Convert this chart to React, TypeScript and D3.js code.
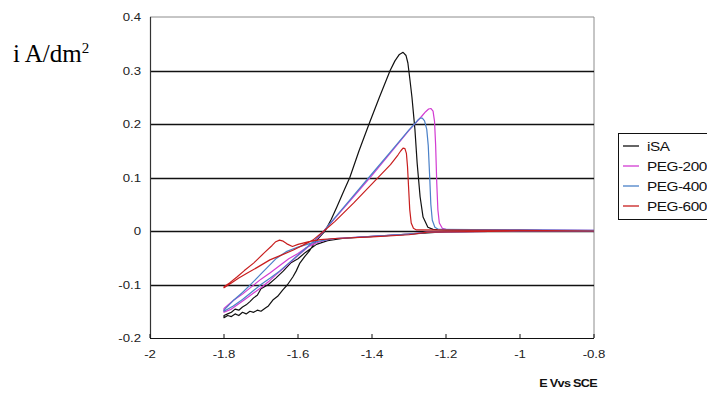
import { useEffect, useRef } from "react";
import * as d3 from "d3";

// potential (V vs SCE), current density (A/dm2); each loop runs cathodic then anodic
const isaLoop: [number, number][] = [
  [-0.8, 0], [-1.0, 0], [-1.2, -0.001], [-1.28, -0.005], [-1.35, -0.008], [-1.42, -0.011],
  [-1.48, -0.014], [-1.52, -0.018], [-1.55, -0.025], [-1.58, -0.04], [-1.6, -0.052],
  [-1.62, -0.06], [-1.64, -0.075], [-1.66, -0.088], [-1.68, -0.1], [-1.7, -0.108],
  [-1.71, -0.12], [-1.72, -0.125], [-1.73, -0.132], [-1.74, -0.138], [-1.75, -0.142],
  [-1.76, -0.148], [-1.77, -0.146], [-1.78, -0.152], [-1.79, -0.155], [-1.8, -0.158],
  [-1.8, -0.162], [-1.79, -0.158], [-1.78, -0.16], [-1.77, -0.155], [-1.76, -0.158],
  [-1.75, -0.152], [-1.74, -0.155], [-1.73, -0.15], [-1.72, -0.152], [-1.71, -0.148],
  [-1.7, -0.15], [-1.69, -0.145], [-1.68, -0.14], [-1.668, -0.129], [-1.655, -0.122],
  [-1.641, -0.11], [-1.628, -0.1], [-1.614, -0.086], [-1.605, -0.075], [-1.595, -0.06],
  [-1.582, -0.048], [-1.568, -0.036], [-1.555, -0.022], [-1.54, -0.01], [-1.527, 0],
  [-1.51, 0.022], [-1.495, 0.045], [-1.478, 0.072], [-1.46, 0.1], [-1.435, 0.15],
  [-1.408, 0.2], [-1.38, 0.25], [-1.351, 0.3], [-1.338, 0.318], [-1.326, 0.33],
  [-1.316, 0.334], [-1.308, 0.328], [-1.303, 0.314], [-1.297, 0.28], [-1.292, 0.25],
  [-1.284, 0.19], [-1.278, 0.127], [-1.27, 0.064], [-1.262, 0.026], [-1.249, 0.007],
  [-1.235, 0.003], [-1.2, 0.002], [-1.0, 0.001], [-0.8, 0],
];

const peg200Loop: [number, number][] = [
  [-0.8, 0], [-1.0, 0], [-1.25, -0.002], [-1.3, -0.006], [-1.4, -0.01], [-1.5, -0.014],
  [-1.52, -0.016], [-1.55, -0.022], [-1.58, -0.032], [-1.6, -0.042], [-1.625, -0.052],
  [-1.65, -0.065], [-1.675, -0.078], [-1.7, -0.09], [-1.725, -0.104], [-1.75, -0.118],
  [-1.775, -0.13], [-1.8, -0.145],
  [-1.8, -0.152], [-1.78, -0.146], [-1.76, -0.136], [-1.74, -0.126], [-1.72, -0.116],
  [-1.7, -0.106], [-1.68, -0.095], [-1.66, -0.082], [-1.64, -0.07], [-1.62, -0.058],
  [-1.6, -0.046], [-1.58, -0.034], [-1.56, -0.022], [-1.545, -0.012], [-1.53, 0],
  [-1.5, 0.024], [-1.45, 0.064], [-1.4, 0.104], [-1.35, 0.146], [-1.3, 0.188],
  [-1.278, 0.205], [-1.265, 0.215], [-1.255, 0.223], [-1.247, 0.228], [-1.241, 0.229],
  [-1.235, 0.224], [-1.231, 0.205], [-1.228, 0.16], [-1.225, 0.09], [-1.222, 0.04],
  [-1.218, 0.015], [-1.21, 0.005], [-1.2, 0.003], [-1.0, 0.002], [-0.8, 0.001],
];

const peg400Loop: [number, number][] = [
  [-0.8, 0], [-1.0, 0], [-1.25, -0.002], [-1.3, -0.006], [-1.4, -0.01], [-1.5, -0.014],
  [-1.52, -0.016], [-1.55, -0.02], [-1.58, -0.026], [-1.6, -0.03], [-1.63, -0.038],
  [-1.66, -0.052], [-1.7, -0.08], [-1.725, -0.098], [-1.75, -0.115], [-1.775, -0.13],
  [-1.8, -0.148],
  [-1.8, -0.15], [-1.775, -0.14], [-1.75, -0.128], [-1.725, -0.114], [-1.7, -0.1],
  [-1.675, -0.088], [-1.65, -0.075], [-1.625, -0.06], [-1.6, -0.045], [-1.575, -0.03],
  [-1.555, -0.017], [-1.53, 0], [-1.5, 0.025], [-1.45, 0.066], [-1.4, 0.107],
  [-1.35, 0.148], [-1.3, 0.189], [-1.285, 0.2], [-1.275, 0.208], [-1.27, 0.211],
  [-1.264, 0.211], [-1.258, 0.206], [-1.252, 0.19], [-1.248, 0.16], [-1.244, 0.1],
  [-1.241, 0.05], [-1.237, 0.02], [-1.23, 0.007], [-1.22, 0.003], [-1.0, 0.002], [-0.8, 0.001],
];

const peg600Loop: [number, number][] = [
  [-0.8, 0], [-1.0, 0], [-1.25, -0.002], [-1.3, -0.007], [-1.4, -0.011], [-1.5, -0.014],
  [-1.54, -0.016], [-1.57, -0.02], [-1.6, -0.025], [-1.615, -0.029], [-1.63, -0.024],
  [-1.64, -0.019], [-1.65, -0.017], [-1.66, -0.02], [-1.67, -0.027], [-1.69, -0.04],
  [-1.72, -0.06], [-1.745, -0.074], [-1.765, -0.086], [-1.785, -0.097], [-1.8, -0.104],
  [-1.8, -0.106], [-1.78, -0.097], [-1.76, -0.088], [-1.738, -0.079], [-1.71, -0.068],
  [-1.676, -0.054], [-1.645, -0.045], [-1.614, -0.036], [-1.585, -0.026], [-1.56, -0.017],
  [-1.53, 0], [-1.5, 0.018], [-1.45, 0.052], [-1.4, 0.088], [-1.35, 0.124], [-1.33, 0.142],
  [-1.322, 0.15], [-1.316, 0.155], [-1.311, 0.154], [-1.307, 0.145], [-1.304, 0.12],
  [-1.301, 0.08], [-1.298, 0.04], [-1.294, 0.015], [-1.288, 0.005], [-1.28, 0.002],
  [-1.0, 0.001], [-0.8, 0],
];

const seriesNames = ["iSA", "PEG-200", "PEG-400", "PEG-600"];
const seriesColors = ["#111111", "#d23cd2", "#4a80c8", "#c81e1e"];
const seriesData = [isaLoop, peg200Loop, peg400Loop, peg600Loop];

const xTicks = [-2, -1.8, -1.6, -1.4, -1.2, -1, -0.8];
const yTicks = [0.4, 0.3, 0.2, 0.1, 0, -0.1, -0.2];
const gridValues = [0.3, 0.2, 0.1, 0, -0.1];

export default function App() {
  const svgRef = useRef<SVGSVGElement>(null);

  useEffect(() => {
    const svg = d3.select(svgRef.current);
    svg.selectAll("*").remove();

    const width = 707;
    const height = 393;
    const left = 150, right = 594, top = 17, bottom = 338;

    svg.attr("width", width).attr("height", height);
    svg.append("rect").attr("width", width).attr("height", height).attr("fill", "#fff");

    const x = d3.scaleLinear().domain([-2, -0.8]).range([left, right]);
    const y = d3.scaleLinear().domain([-0.2, 0.4]).range([bottom, top]);
    const fmt = (v: number) => `${+v.toFixed(1)}`;
    const sans = "'Liberation Sans', Arial, sans-serif";

    // frame: top and right are grey
    svg.append("path")
      .attr("d", `M${left},${top}H${right}V${bottom}`)
      .attr("fill", "none")
      .attr("stroke", "#8c8c8c")
      .attr("stroke-width", 1);

    // grid lines
    svg.append("g")
      .selectAll("line")
      .data(gridValues)
      .join("line")
      .attr("x1", left)
      .attr("x2", right)
      .attr("y1", (d) => Math.round(y(d)) + 0.5)
      .attr("y2", (d) => Math.round(y(d)) + 0.5)
      .attr("stroke", "#111")
      .attr("stroke-width", 1.4);

    // y axis
    svg.append("line")
      .attr("x1", left + 0.5).attr("x2", left + 0.5)
      .attr("y1", top).attr("y2", bottom)
      .attr("stroke", "#333").attr("stroke-width", 1.2);

    svg.append("g")
      .selectAll("text")
      .data(yTicks)
      .join("text")
      .attr("transform", (d) => `translate(${left - 9},${y(d) + 4}) scale(1.2,1)`)
      .attr("text-anchor", "end")
      .attr("font-family", sans)
      .attr("font-size", 11)
      .attr("fill", "#222")
      .text(fmt);

    // x axis with inward ticks
    svg.append("line")
      .attr("x1", left).attr("x2", right)
      .attr("y1", bottom + 0.5).attr("y2", bottom + 0.5)
      .attr("stroke", "#111").attr("stroke-width", 1.2);

    svg.append("g")
      .selectAll("line")
      .data(xTicks)
      .join("line")
      .attr("x1", (d) => x(d))
      .attr("x2", (d) => x(d))
      .attr("y1", bottom)
      .attr("y2", bottom - 4)
      .attr("stroke", "#111");

    svg.append("g")
      .selectAll("text")
      .data(xTicks)
      .join("text")
      .attr("transform", (d) => `translate(${x(d)},${bottom + 20}) scale(1.2,1)`)
      .attr("text-anchor", "middle")
      .attr("font-family", sans)
      .attr("font-size", 11)
      .attr("fill", "#222")
      .text(fmt);

    svg.append("text")
      .attr("transform", `translate(597,387) scale(1.15,1)`)
      .attr("text-anchor", "end")
      .attr("font-family", sans)
      .attr("font-size", 11)
      .attr("font-weight", "bold")
      .attr("letter-spacing", -0.6)
      .attr("fill", "#111")
      .text("E Vvs SCE");

    // y label
    const ylab = svg.append("text")
      .attr("x", 13)
      .attr("y", 62)
      .attr("font-family", "'Liberation Serif', 'Times New Roman', serif")
      .attr("font-size", 25)
      .attr("fill", "#000");
    ylab.append("tspan").text("i A/dm");
    ylab.append("tspan").attr("dy", -9).attr("font-size", 15).text("2");

    // curves
    const line = d3.line<[number, number]>()
      .x((d) => x(d[0]))
      .y((d) => y(d[1]));

    svg.append("g")
      .selectAll("path")
      .data(seriesData)
      .join("path")
      .attr("d", (d) => line(d))
      .attr("fill", "none")
      .attr("stroke", (_, i) => seriesColors[i])
      .attr("stroke-width", 1.2)
      .attr("stroke-linejoin", "round");

    // legend (runs off the right edge like the original)
    const lg = svg.append("g");
    lg.append("rect")
      .attr("x", 618.5)
      .attr("y", 133.5)
      .attr("width", 110)
      .attr("height", 86)
      .attr("fill", "#fff")
      .attr("stroke", "#111");

    const rows = lg.selectAll("g.row")
      .data(seriesNames)
      .join("g")
      .attr("class", "row")
      .attr("transform", (_, i) => `translate(0,${146 + i * 20})`);

    rows.append("line")
      .attr("x1", 623).attr("x2", 639)
      .attr("y1", 0).attr("y2", 0)
      .attr("stroke", (_, i) => seriesColors[i])
      .attr("stroke-width", 1.3);

    rows.append("text")
      .attr("transform", "translate(647,4.5) scale(1.18,1)")
      .attr("font-family", sans)
      .attr("font-size", 13)
      .attr("letter-spacing", -0.4)
      .attr("fill", "#111")
      .text((d) => d);
  }, []);

  return (
    <div style={{ position: "absolute", left: 0, top: 0 }}>
      <svg ref={svgRef} style={{ display: "block" }} />
    </div>
  );
}
